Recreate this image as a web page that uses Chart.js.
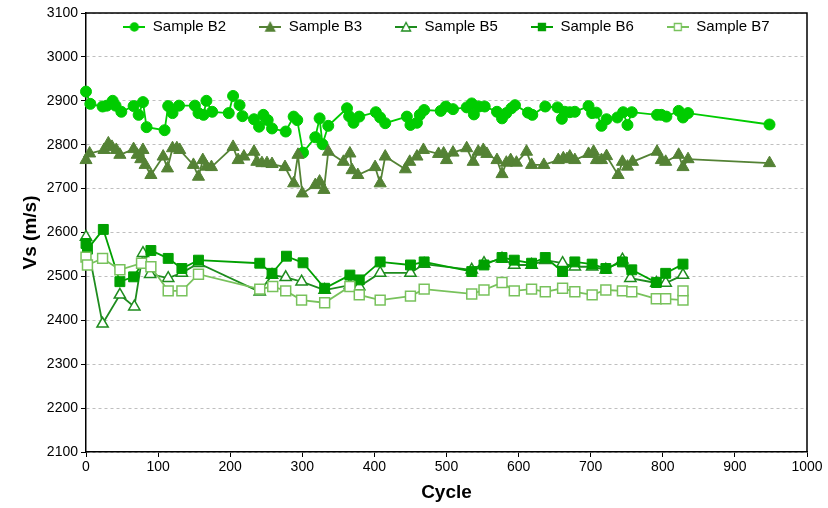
<!DOCTYPE html>
<html>
<head>
<meta charset="utf-8">
<script src="https://cdn.jsdelivr.net/npm/chart.js@4.4.1/dist/chart.umd.min.js"></script>
<style>
  html, body { margin: 0; padding: 0; background: #fff; }
</style>
</head>
<body>
<canvas id="graficoVs" width="828" height="508"></canvas>
<script>
// Ticks dos eixos
const xTicks = [0, 100, 200, 300, 400, 500, 600, 700, 800, 900, 1000];
const yTicks = [2100, 2200, 2300, 2400, 2500, 2600, 2700, 2800, 2900, 3000, 3100];

const seriesNames = ['Sample B2', 'Sample B3', 'Sample B5', 'Sample B6', 'Sample B7'];

// Sample B2
const b2Cycle = [0, 6, 23, 29, 37, 41, 49, 66, 73, 79, 84, 109, 114, 120, 129, 151, 156, 163, 167, 175,
  198, 204, 213, 217, 233, 240, 246, 252, 258, 277, 288, 293, 301, 318, 324, 328, 336, 362, 365, 371,
  379, 402, 408, 415, 445, 450, 459, 463, 469, 492, 499, 509, 528, 535, 538, 545, 553, 570, 577, 583,
  590, 595, 613, 619, 637, 654, 660, 664, 671, 678, 697, 702, 708, 715, 722, 737, 745, 751, 757, 792,
  798, 805, 822, 828, 835, 948];
const b2Vs = [2921, 2893, 2887, 2889, 2900, 2889, 2875, 2888, 2868, 2897, 2840, 2833, 2888, 2872, 2889, 2889, 2872, 2868, 2900, 2875,
  2872, 2911, 2890, 2865, 2858, 2841, 2868, 2856, 2837, 2830, 2864, 2856, 2782, 2817, 2860, 2801, 2843, 2883, 2865, 2850,
  2864, 2874, 2862, 2849, 2864, 2845, 2850, 2868, 2879, 2877, 2887, 2881, 2885, 2894, 2869, 2887, 2887, 2875, 2860, 2872,
  2883, 2890, 2873, 2868, 2887, 2885, 2859, 2875, 2874, 2875, 2888, 2872, 2873, 2843, 2858, 2862, 2874, 2845, 2874, 2868,
  2868, 2864, 2877, 2862, 2872, 2846];

// Sample B3
const b3Cycle = [0, 5, 25, 31, 36, 42, 47, 66, 71, 76, 79, 82, 90, 107, 113, 120, 126, 130, 149, 156,
  162, 167, 174, 204, 211, 219, 233, 237, 244, 251, 258, 276, 288, 294, 300, 318, 324, 330, 336, 357,
  366, 369, 377, 401, 408, 415, 443, 449, 459, 468, 489, 496, 500, 509, 528, 537, 544, 551, 556, 570,
  577, 583, 589, 597, 611, 618, 635, 655, 662, 667, 671, 678, 697, 704, 708, 715, 722, 738, 744, 751,
  758, 792, 798, 804, 822, 828, 835, 948];
const b3Vs = [2765, 2780, 2788, 2803, 2795, 2788, 2777, 2790, 2777, 2767, 2788, 2754, 2731, 2773, 2746, 2792, 2792, 2788, 2754, 2727,
  2765, 2750, 2749, 2795, 2765, 2773, 2784, 2761, 2758, 2758, 2756, 2749, 2712, 2777, 2689, 2708, 2716, 2697, 2784, 2761,
  2780, 2742, 2731, 2749, 2712, 2773, 2744, 2761, 2773, 2788, 2779, 2780, 2765, 2782, 2792, 2761, 2784, 2788, 2779, 2765,
  2733, 2759, 2765, 2759, 2784, 2754, 2754, 2765, 2769, 2767, 2773, 2765, 2779, 2784, 2765, 2765, 2774, 2731, 2761, 2750,
  2761, 2784, 2765, 2761, 2777, 2749, 2767, 2758];

// Sample B5
const b5Cycle = [0, 23, 47, 67, 79, 89, 114, 133, 156, 241, 258, 277, 299, 331, 366, 379, 408, 450, 469, 535,
  552, 577, 594, 618, 637, 661, 678, 702, 721, 744, 755, 791, 804, 828];
const b5Vs = [2590, 2392, 2458, 2431, 2553, 2505, 2496, 2508, 2530, 2465, 2503, 2498, 2488, 2469, 2480, 2477, 2508, 2508, 2528, 2515,
  2530, 2540, 2526, 2526, 2537, 2530, 2522, 2522, 2515, 2538, 2496, 2485, 2485, 2503];

// Sample B6
const b6Cycle = [0, 2, 24, 47, 66, 90, 114, 133, 156, 241, 258, 278, 301, 331, 366, 379, 408, 450, 469, 535,
  552, 577, 594, 618, 637, 661, 678, 702, 721, 744, 757, 791, 804, 828];
const b6Vs = [2575, 2562, 2607, 2488, 2499, 2559, 2541, 2518, 2537, 2530, 2507, 2546, 2531, 2473, 2503, 2492, 2533, 2526, 2533, 2511,
  2526, 2543, 2537, 2530, 2543, 2511, 2533, 2528, 2518, 2533, 2515, 2486, 2507, 2528];

// Sample B7
const b7Cycle = [0, 2, 23, 47, 77, 90, 114, 133, 156, 241, 259, 277, 299, 331, 366, 379, 408, 450, 469, 535,
  552, 577, 594, 618, 637, 661, 678, 702, 721, 744, 757, 791, 804, 828, 828];
const b7Vs = [2544, 2526, 2541, 2515, 2530, 2522, 2467, 2467, 2505, 2471, 2477, 2467, 2446, 2440, 2477, 2458, 2446, 2455, 2471, 2460,
  2469, 2486, 2467, 2471, 2465, 2473, 2465, 2458, 2469, 2467, 2465, 2449, 2449, 2446, 2467];

const fonte = "'Liberation Sans', Arial, sans-serif";
Chart.defaults.font.family = fonte;
Chart.defaults.color = '#000';

const estilos = [
  { cor: '#00CC00', forma: 'circle', raio: 5.5, cheio: true },
  { cor: '#548235', forma: 'triangle', raio: 7, cheio: true },
  { cor: '#1E8C1E', forma: 'triangle', raio: 6.5, cheio: false },
  { cor: '#00A000', forma: 'rect', raio: 7, cheio: true },
  { cor: '#78C25C', forma: 'rect', raio: 7, cheio: false }
];

// Ícone da legenda: linha com marcador no meio
function iconeLegenda(e) {
  const c = document.createElement('canvas');
  c.width = 22; c.height = 12;
  const g = c.getContext('2d');
  g.strokeStyle = e.cor;
  g.lineWidth = 2;
  g.beginPath(); g.moveTo(0, 6); g.lineTo(22, 6); g.stroke();
  g.fillStyle = e.cheio ? e.cor : '#fff';
  g.lineWidth = 1.3;
  g.beginPath();
  if (e.forma === 'circle') {
    g.arc(11, 6, 4, 0, Math.PI * 2);
  } else if (e.forma === 'triangle') {
    g.moveTo(11, 1.5); g.lineTo(15.5, 10); g.lineTo(6.5, 10); g.closePath();
  } else {
    g.rect(7.5, 2.5, 7, 7);
  }
  g.fill(); g.stroke();
  return c;
}
const icones = estilos.map(iconeLegenda);

const pares = [[b2Cycle, b2Vs], [b3Cycle, b3Vs], [b5Cycle, b5Vs], [b6Cycle, b6Vs], [b7Cycle, b7Vs]];

const datasets = pares.map(([xs, ys], i) => {
  const e = estilos[i];
  return {
    label: seriesNames[i],
    data: xs.map((x, k) => ({ x: x, y: ys[k] })),
    showLine: true,
    borderColor: e.cor,
    borderWidth: 1.8,
    backgroundColor: e.cor,
    pointStyle: e.forma,
    pointRadius: e.raio,
    pointBackgroundColor: e.cheio ? e.cor : '#fff',
    pointBorderColor: e.cor,
    pointBorderWidth: e.cheio ? 1 : 1.5,
    order: 5 - i,
    clip: false
  };
});

const legendaPad = 33;
const legendaFonte = 15;

// Legenda dentro da área do gráfico (como no Excel)
const legendaDentro = {
  id: 'legendaDentro',
  afterInit(chart) {
    const leg = chart.legend;
    const fitOriginal = leg.fit;
    leg.fit = function () {
      fitOriginal.call(this);
      this._alturaReal = this.height;
      this.height = 0;
    };
  },
  afterLayout(chart) {
    const leg = chart.legend, a = chart.chartArea;
    leg.left = a.left; leg.right = a.right; leg.width = a.right - a.left;
    leg.top = 27 - legendaPad - legendaFonte / 2;
    leg.height = leg._alturaReal;
    leg.bottom = leg.top + leg.height;
  }
};

// Moldura superior e direita da área de plotagem
const moldura = {
  id: 'moldura',
  beforeDatasetsDraw(chart) {
    const { ctx, chartArea: a } = chart;
    ctx.save();
    ctx.strokeStyle = '#000';
    ctx.lineWidth = 1.5;
    ctx.beginPath();
    ctx.moveTo(a.left, a.top); ctx.lineTo(a.right, a.top); ctx.lineTo(a.right, a.bottom);
    ctx.stroke();
    ctx.restore();
  }
};

new Chart(document.getElementById('graficoVs').getContext('2d'), {
  type: 'scatter',
  data: { datasets: datasets },
  options: {
    responsive: false,
    animation: false,
    devicePixelRatio: 1,
    layout: { padding: { top: 13, right: 21, left: 0, bottom: 0 } },
    plugins: {
      tooltip: { enabled: false },
      legend: {
        position: 'top',
        labels: {
          usePointStyle: true,
          pointStyleWidth: 22,
          padding: legendaPad,
          color: '#000',
          font: { size: legendaFonte },
          generateLabels: (chart) => chart.data.datasets.map((ds, i) => ({
            text: ds.label,
            pointStyle: icones[i],
            fillStyle: 'rgba(0,0,0,0)',
            strokeStyle: 'rgba(0,0,0,0)',
            lineWidth: 0,
            hidden: false,
            datasetIndex: i
          }))
        }
      }
    },
    scales: {
      x: {
        type: 'linear',
        min: xTicks[0],
        max: xTicks[xTicks.length - 1],
        afterBuildTicks: (s) => { s.ticks = xTicks.map(v => ({ value: v })); },
        ticks: { font: { size: 14 }, padding: 2, maxRotation: 0, color: '#000', callback: (v) => String(v) },
        grid: { drawOnChartArea: false, color: '#000', tickLength: 5 },
        border: { color: '#000', width: 1.5 },
        title: {
          display: true, text: 'Cycle', color: '#000',
          font: { size: 19, weight: 'bold' },
          padding: { top: 0, bottom: 4 }
        },
        afterFit: (s) => { s.height = 56; }
      },
      y: {
        min: yTicks[0],
        max: yTicks[yTicks.length - 1],
        afterBuildTicks: (s) => { s.ticks = yTicks.map(v => ({ value: v })); },
        ticks: { font: { size: 14 }, padding: 3, color: '#000', callback: (v) => String(v) },
        grid: { color: '#BFBFBF', tickColor: '#000', tickLength: 5 },
        border: { color: '#000', width: 1.5, dash: [3, 3] },
        title: {
          display: true, text: 'Vs (m/s)', color: '#000',
          font: { size: 19, weight: 'bold' },
          padding: { top: 19, bottom: 0 }
        },
        afterFit: (s) => { s.width = 86; }
      }
    }
  },
  plugins: [legendaDentro, moldura]
});
</script>
</body>
</html>
